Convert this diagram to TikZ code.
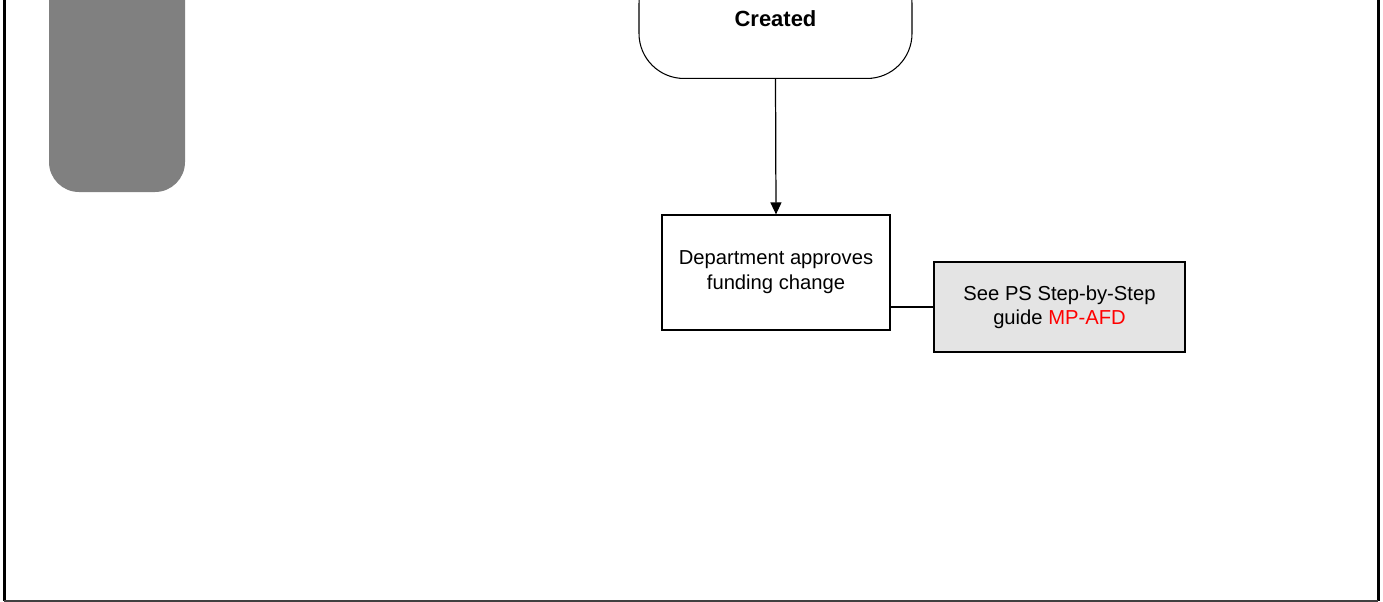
\documentclass[tikz,border=0pt]{standalone}
\usepackage{fontspec}
\setmainfont{Liberation Sans}
\usetikzlibrary{arrows.meta}
\definecolor{lanegray}{HTML}{808080}
\definecolor{noteshade}{HTML}{E4E4E4}
\definecolor{linkred}{HTML}{FF0000}

\begin{document}
\begin{tikzpicture}[
    procbox/.style={draw, line width=0.7pt, align=center, inner sep=0pt,
        font=\fontsize{11.5}{14.2}\selectfont}
]
    \useasboundingbox (0,0) rectangle (27.66,-12.04);
    \clip (0,0) rectangle (27.66,-12.04);
    % pool frame
    \draw[line width=2pt] (0.09,0.1) -- (0.09,-12.02);
    \draw[line width=1.7pt] (27.56,0.1) -- (27.56,-12.02);
    \draw[line width=0.8pt, black!75] (0.09,-12.02) -- (27.56,-12.02);
    % lane header
    \fill[lanegray, rounded corners=0.6cm] (0.98,1) -- (0.98,-3.84) -- (3.70,-3.84) -- (3.70,1) -- cycle;
    % flow
    \node[procbox, line width=0.6pt, rounded corners=0.9cm, minimum width=5.46cm, minimum height=2.4cm,
        anchor=south, font=\fontsize{12.5}{14}\selectfont\bfseries] (created) at (15.51,-1.58) {Created};
    \node[procbox, minimum width=4.56cm, minimum height=2.3cm] (approve) at (15.52,-5.45)
        {Department approves\\funding change};
    \node[procbox, fill=noteshade, minimum width=5.02cm, minimum height=1.8cm, font=\fontsize{11.5}{13.8}\selectfont]
        (guide) at (21.19,-6.14) {See PS Step-by-Step\\guide \textcolor{linkred}{MP-AFD}};
    \draw[line width=0.7pt, -{Triangle[width=0.22cm,length=0.24cm]}] (created.south) -- (approve.north);
    \draw[line width=0.7pt] (guide.west) -- (guide.west -| approve.east);
\end{tikzpicture}
\end{document}
